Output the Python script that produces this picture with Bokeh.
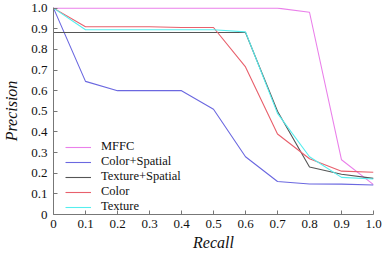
from bokeh.plotting import figure
from bokeh.models import FixedTicker, Legend, LegendItem
from bokeh.embed import file_html
from bokeh.resources import INLINE

recall = [0.0, 0.1, 0.2, 0.3, 0.4, 0.5, 0.6, 0.7, 0.8, 0.9, 1.0]
mffc = [1.0, 1.0, 1.0, 1.0, 1.0, 1.0, 1.0, 1.0, 0.98, 0.265, 0.145]
color_spatial = [1.0, 0.645, 0.60, 0.60, 0.60, 0.51, 0.28, 0.16, 0.148, 0.147, 0.143]
texture_spatial = [0.882, 0.882, 0.882, 0.882, 0.882, 0.882, 0.882, 0.50, 0.23, 0.195, 0.175]
color = [1.0, 0.91, 0.91, 0.91, 0.906, 0.906, 0.715, 0.39, 0.27, 0.21, 0.205]
texture = [1.0, 0.895, 0.895, 0.895, 0.895, 0.895, 0.885, 0.49, 0.28, 0.18, 0.172]
ticks = [0.0, 0.1, 0.2, 0.3, 0.4, 0.5, 0.6, 0.7, 0.8, 0.9, 1.0]
tick_labels = ["0", "0.1", "0.2", "0.3", "0.4", "0.5", "0.6", "0.7", "0.8", "0.9", "1.0"]

FONT = "Liberation Serif"

p = figure(width=384, height=253, output_backend="svg", toolbar_location=None,
           x_range=(0, 1.0), y_range=(0, 1.003),
           min_border_left=49, min_border_right=11, min_border_top=7, min_border_bottom=36)
p.outline_line_color = None
p.xgrid.visible = False
p.ygrid.visible = False

series = [("MFFC", mffc, "#ea80ea"),
          ("Color+Spatial", color_spatial, "#6b68e0"),
          ("Texture+Spatial", texture_spatial, "#555555"),
          ("Color", color, "#e8606c"),
          ("Texture", texture, "#55eeee")]
items = []
for name, ys, c in series:
    r = p.line(recall, ys, line_color=c, line_width=1.1)
    items.append(LegendItem(label=name, renderers=[r]))

for ax in (p.xaxis[0], p.yaxis[0]):
    ax.ticker = FixedTicker(ticks=ticks)
    ax.major_label_overrides = {t: l for t, l in zip(ticks, tick_labels)}
    ax.minor_tick_line_color = None
    ax.major_tick_in = 4
    ax.major_tick_out = 0
    ax.axis_line_color = "#777777"
    ax.major_tick_line_color = "#777777"
    ax.major_label_text_font = FONT
    ax.major_label_text_font_size = "13px"
    ax.major_label_text_color = "#111111"
    ax.axis_label_text_font = FONT
    ax.axis_label_text_font_style = "italic"
    ax.axis_label_text_font_size = "16px"
    ax.axis_label_text_color = "#111111"
p.xaxis.major_label_standoff = 5
p.yaxis.major_label_standoff = 6
p.xaxis.axis_label = "Recall"
p.yaxis.axis_label = "Precision"
p.xaxis.axis_label_standoff = 3
p.yaxis.axis_label_standoff = 8

legend = Legend(items=items, location=(12, 0))
legend.border_line_color = None
legend.background_fill_alpha = 0
legend.label_text_font = FONT
legend.label_text_font_size = "12.5px"
legend.label_text_line_height = 0.8
legend.label_text_color = "#111111"
legend.glyph_width = 26
legend.glyph_height = 8
legend.label_height = 8
legend.spacing = 0
legend.padding = 2
legend.label_standoff = 10
p.add_layout(legend)

open("out.html", "w").write(file_html(p, INLINE))
